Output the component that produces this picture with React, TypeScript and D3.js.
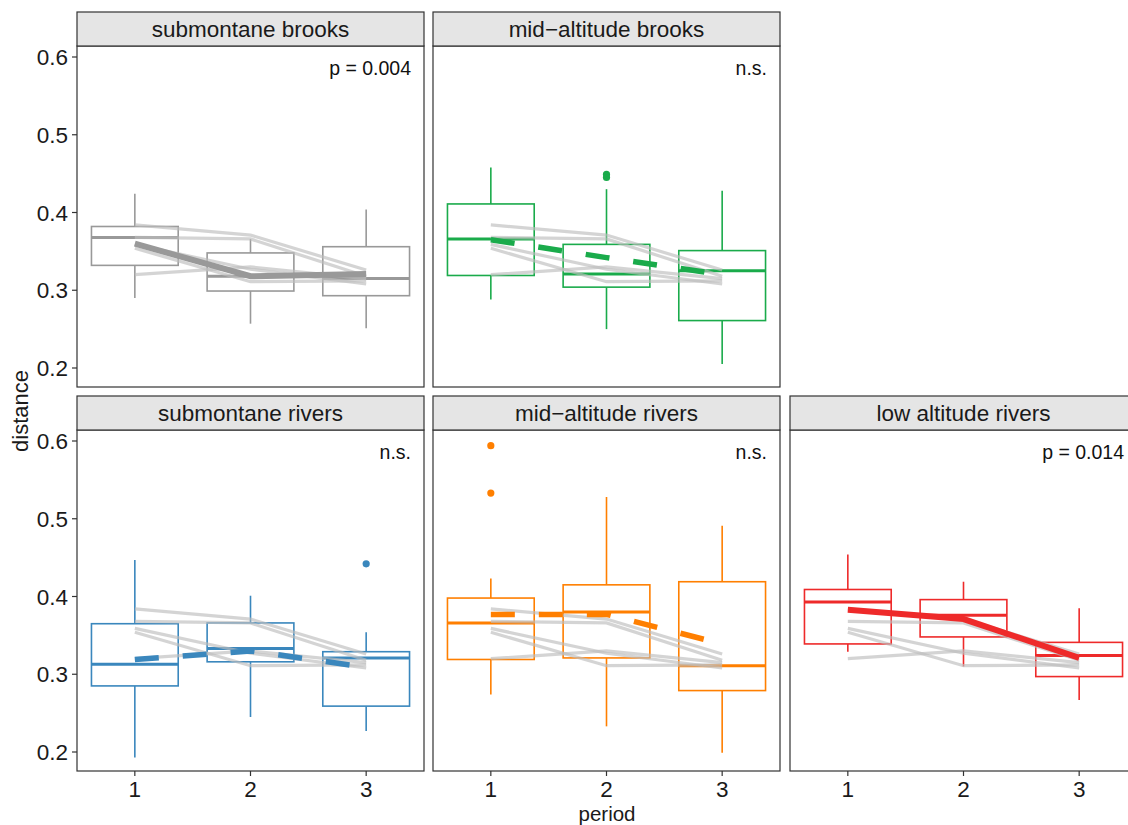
import React from "react";
import * as d3 from "d3";

const periods = ["1", "2", "3"];
const groups = [
  "submontane brooks",
  "mid\u2212altitude brooks",
  "submontane rivers",
  "mid\u2212altitude rivers",
  "low altitude rivers",
];
const pLabels = ["p = 0.004", "n.s.", "n.s.", "n.s.", "p = 0.014"];
const colors = ["#999999", "#1aab4b", "#3a87bd", "#ff7f00", "#ee2a2a"];
const dashed = [false, true, true, true, false];

// box statistics per group, per period
const whiskerLow = [
  [0.29, 0.257, 0.251],
  [0.288, 0.25, 0.205],
  [0.193, 0.245, 0.227],
  [0.274, 0.233, 0.199],
  [0.329, 0.31, 0.267],
];
const q1 = [
  [0.332, 0.299, 0.293],
  [0.319, 0.304, 0.261],
  [0.285, 0.316, 0.259],
  [0.319, 0.321, 0.279],
  [0.339, 0.348, 0.297],
];
const medians = [
  [0.368, 0.318, 0.315],
  [0.366, 0.321, 0.325],
  [0.313, 0.333, 0.321],
  [0.366, 0.38, 0.311],
  [0.393, 0.376, 0.324],
];
const q3 = [
  [0.382, 0.348, 0.356],
  [0.411, 0.359, 0.351],
  [0.365, 0.366, 0.329],
  [0.398, 0.415, 0.419],
  [0.409, 0.396, 0.341],
];
const whiskerHigh = [
  [0.424, 0.366, 0.404],
  [0.458, 0.43, 0.428],
  [0.447, 0.401, 0.354],
  [0.423, 0.528, 0.491],
  [0.454, 0.419, 0.385],
];
const outliers = [
  [[], [], []],
  [[], [0.449, 0.445], []],
  [[], [], [0.442]],
  [[0.594, 0.533], [], []],
  [[], [], []],
];
const means = [
  [0.36, 0.318, 0.321],
  [0.365, 0.342, 0.32],
  [0.319, 0.33, 0.309],
  [0.377, 0.377, 0.339],
  [0.383, 0.371, 0.321],
];
const grayLines = [
  [0.384, 0.371, 0.326],
  [0.368, 0.366, 0.318],
  [0.359, 0.327, 0.308],
  [0.354, 0.311, 0.312],
  [0.32, 0.33, 0.315],
];
const yTicks = [0.2, 0.3, 0.4, 0.5, 0.6];

const W = 1128;
const H = 825;
const panelX = [77, 433, 790];
const panelW = 347;
const rowTop = [46, 430];
const panelH = 341;
const stripH = 34;
const layout = [
  [0, 0],
  [0, 1],
  [1, 0],
  [1, 1],
  [1, 2],
];
const font = "'Liberation Sans', Arial, Helvetica, sans-serif";

function Panel({ gi }: { gi: number }) {
  const [row, col] = layout[gi];
  const x0 = panelX[col];
  const y0 = rowTop[row];
  const x = d3.scalePoint<string>().domain(periods).range([x0, x0 + panelW]).padding(0.5);
  const y = d3
    .scaleLinear()
    .domain([0.2, 0.6])
    .range([y0 + 322, y0 + 11]);
  const bw = x.step() * 0.75;
  const color = colors[gi];
  const line = d3
    .line<number>()
    .x((_, i) => x(periods[i]) as number)
    .y((d) => y(d));
  return (
    <g>
      <rect x={x0} y={y0} width={panelW} height={panelH} fill="white" />
      {periods.map((p, i) => {
        const cx = x(p) as number;
        return (
          <g key={p} stroke={color} fill="none" strokeWidth={1.6}>
            <line x1={cx} x2={cx} y1={y(q3[gi][i])} y2={y(whiskerHigh[gi][i])} />
            <line x1={cx} x2={cx} y1={y(q1[gi][i])} y2={y(whiskerLow[gi][i])} />
            <rect
              x={cx - bw / 2}
              y={y(q3[gi][i])}
              width={bw}
              height={y(q1[gi][i]) - y(q3[gi][i])}
              fill="white"
            />
            <line
              x1={cx - bw / 2}
              x2={cx + bw / 2}
              y1={y(medians[gi][i])}
              y2={y(medians[gi][i])}
              strokeWidth={3}
            />
            {outliers[gi][i].map((v, k) => (
              <circle key={k} cx={cx} cy={y(v)} r={3.6} fill={color} stroke="none" />
            ))}
          </g>
        );
      })}
      {grayLines.map((gl, k) => (
        <path
          key={k}
          d={line(gl) as string}
          fill="none"
          stroke="#bdbdbd"
          strokeOpacity={0.65}
          strokeWidth={3.2}
        />
      ))}
      <path
        d={line(means[gi]) as string}
        fill="none"
        stroke={color}
        strokeWidth={dashed[gi] ? 5.5 : 6}
        strokeDasharray={dashed[gi] ? "24 24" : undefined}
      />
      <text
        x={x0 + panelW - 13}
        y={y0 + 29}
        textAnchor="end"
        fontSize={19.5}
        fontFamily={font}
        fill="#111"
      >
        {pLabels[gi]}
      </text>
      <rect x={x0} y={y0} width={panelW} height={panelH} fill="none" stroke="#333" strokeWidth={1.2} />
      <rect
        x={x0}
        y={y0 - stripH}
        width={panelW}
        height={stripH}
        fill="#e5e5e5"
        stroke="#333"
        strokeWidth={1.2}
      />
      <text
        x={x0 + panelW / 2}
        y={y0 - stripH / 2}
        dy="0.36em"
        textAnchor="middle"
        fontSize={22.5}
        fontFamily={font}
        fill="#1a1a1a"
      >
        {groups[gi]}
      </text>
      {col === 0 &&
        yTicks.map((t) => (
          <g key={t}>
            <line x1={x0 - 5} x2={x0} y1={y(t)} y2={y(t)} stroke="#333" strokeWidth={1.2} />
            <text
              x={x0 - 9}
              y={y(t)}
              dy="0.36em"
              textAnchor="end"
              fontSize={22.5}
              fontFamily={font}
              fill="#1a1a1a"
            >
              {t.toFixed(1)}
            </text>
          </g>
        ))}
      {row === 1 &&
        periods.map((p) => (
          <g key={p}>
            <line
              x1={x(p) as number}
              x2={x(p) as number}
              y1={y0 + panelH}
              y2={y0 + panelH + 5}
              stroke="#333"
              strokeWidth={1.2}
            />
            <text
              x={x(p) as number}
              y={y0 + panelH + 26}
              textAnchor="middle"
              fontSize={22.5}
              fontFamily={font}
              fill="#1a1a1a"
            >
              {p}
            </text>
          </g>
        ))}
    </g>
  );
}

export default function App() {
  return (
    <svg
      width={W}
      height={H}
      style={{ position: "absolute", left: 0, top: 0, overflow: "hidden" }}
    >
      <rect x={0} y={0} width={W} height={H} fill="white" />
      {groups.map((_, gi) => (
        <Panel key={gi} gi={gi} />
      ))}
      <text
        x={607}
        y={820.5}
        textAnchor="middle"
        fontSize={20.5}
        fontFamily={font}
        fill="#1a1a1a"
      >
        period
      </text>
      <text
        transform="translate(28,411) rotate(-90)"
        textAnchor="middle"
        fontSize={22}
        fontFamily={font}
        fill="#1a1a1a"
      >
        distance
      </text>
    </svg>
  );
}
